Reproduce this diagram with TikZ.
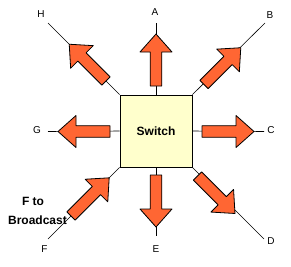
\documentclass[tikz,border=0pt]{standalone}
\usepackage{fontspec}
\setmainfont{Liberation Sans}
\definecolor{arroworange}{HTML}{FF6633}
\definecolor{boxyellow}{HTML}{FFFFCC}
\tikzset{
  thinline/.style={draw=black,line width=0.6pt},
  barrow/.style={fill=arroworange,draw=black,line width=0.8pt,line join=round},
  switchbox/.style={draw=black,line width=0.9pt,fill=boxyellow,minimum width=72pt,minimum height=72pt,inner sep=0pt,font=\fontsize{12}{14}\selectfont\bfseries},
  letter/.style={font=\fontsize{10}{12}\selectfont,inner sep=0pt},
  note/.style={font=\fontsize{12}{14}\selectfont\bfseries,inner sep=0pt}
}
\newcommand\blockarrow[4]{%
  \begin{scope}[shift={(#1,#2)},rotate=#3]
    \draw[barrow] (0,-5.8) -- (#4-18,-5.8) -- (#4-18,-16) -- (#4,0) -- (#4-18,16) -- (#4-18,5.8) -- (0,5.8) -- cycle;
  \end{scope}}
\begin{document}
\begin{tikzpicture}[x=1pt,y=-1pt]
\useasboundingbox (0,0) rectangle (291,266);
% end points of the lines
\coordinate (pA) at (156,23);
\coordinate (pB) at (265,23);
\coordinate (pC) at (264,131.5);
\coordinate (pD) at (264,239);
\coordinate (pE) at (156,236);
\coordinate (pF) at (48,239);
\coordinate (pG) at (48,131.5);
\coordinate (pH) at (48,23);
\node[switchbox] (sw) at (156,131) {};
\draw[thinline] (sw.north) -- (pA);
\draw[thinline] (sw.north east) -- (pB);
\draw[thinline] (sw.east) -- (pC);
\draw[thinline] (sw.south east) -- (pD);
\draw[thinline] (sw.south) -- (pE);
\draw[thinline] (sw.south west) -- (pF);
\draw[thinline] (sw.west) -- (pG);
\draw[thinline] (sw.north west) -- (pH);
\node[switchbox] (swb) at (156,131) {Switch};
% block arrows
\blockarrow{156}{86}{90}{52}
\blockarrow{204}{84.5}{45}{52}
\blockarrow{202}{131.5}{0}{52}
\blockarrow{197.5}{176}{-45}{53}
\blockarrow{156}{175}{-90}{52}
\blockarrow{71}{216}{45}{54}
\blockarrow{110}{131.5}{180}{52}
\blockarrow{106}{81}{135}{52}
% labels
\node[letter] (lA) at (155,12) {A};
\node[letter] (lB) at (270,15.5) {B};
\node[letter] (lC) at (271,130) {C};
\node[letter] (lD) at (271,241) {D};
\node[letter] (lE) at (156,249.5) {E};
\node[letter] (lF) at (44.5,249.5) {F};
\node[letter] (lG) at (37,130) {G};
\node[letter] (lH) at (41,14) {H};
\node[note] (n1) at (33,201) {F to};
\node[note] (n2) at (37.5,220) {Broadcast};
\end{tikzpicture}
\end{document}
